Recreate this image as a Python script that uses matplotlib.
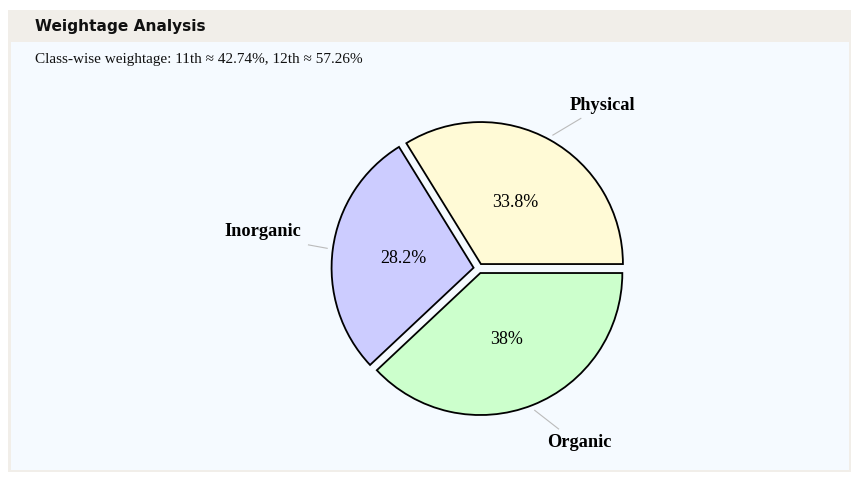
import matplotlib.pyplot as plt
from matplotlib.patches import Rectangle
import numpy as np

# data
topics = ["Physical", "Inorganic", "Organic"]
weights = [33.8, 28.2, 38.0]
colors = ["#fffad6", "#ccccff", "#ccffcc"]
title = "Weightage Analysis"
subtitle = "Class-wise weightage: 11th \u2248 42.74%, 12th \u2248 57.26%"

W, H = 857, 482
fig = plt.figure(figsize=(W / 100, H / 100), dpi=100)
fig.patch.set_facecolor("white")

# background frame / header / panel (pixel coords, y from top)
bg = fig.add_axes([0, 0, 1, 1])
bg.set_xlim(0, W)
bg.set_ylim(H, 0)
bg.axis("off")
bg.add_patch(Rectangle((8, 10), 843, 462, facecolor="#f1eee9", edgecolor="none"))
bg.add_patch(Rectangle((11, 42), 838, 428, facecolor="#f5faff", edgecolor="none"))
bg.text(35, 26, title, fontsize=11.1, fontweight="bold", family="DejaVu Sans",
        va="center", ha="left", color="#111111")
bg.text(35, 60, subtitle, fontsize=11, family=["Liberation Serif", "DejaVu Serif"],
        va="center", ha="left", color="#111111")

# pie axes: 1 data unit = R pixels
cx, cy, R = 478.5, 268.4, 142.0
ax = fig.add_axes([0, 0, 1, 1])
ax.axis("off")

def fmt(p):
    return "{:g}%".format(round(p, 1))

wedges, texts, autotexts = ax.pie(
    weights, labels=topics, colors=colors, startangle=0, counterclock=True,
    explode=[0.035] * len(weights), autopct=fmt, pctdistance=0.5,
    labeldistance=1.28,
    wedgeprops=dict(edgecolor="black", linewidth=1.3),
    textprops=dict(family="Liberation Serif"))

for t in texts:
    t.set_fontsize(13.2)
    t.set_fontweight("bold")
for t in autotexts:
    t.set_fontsize(13)

# nudge the left label up a bit like the original
texts[1].set_position((texts[1].get_position()[0] + 8 / R,
                       texts[1].get_position()[1] + 12 / R))

# leader lines: from wedge edge to just beside the label
for w, t in zip(wedges, texts):
    ang = np.deg2rad((w.theta1 + w.theta2) / 2)
    ox, oy = w.center
    x0 = ox + 1.04 * np.cos(ang)
    y0 = oy + 1.04 * np.sin(ang)
    tx, ty = t.get_position()
    x1 = tx + (0.08 if np.cos(ang) > 0 else 0.05)
    y1 = ty - 0.092 * np.sign(ty - oy)
    ax.plot([x0, x1], [y0, y1], color="#bbbbbb", lw=0.8)

ax.set_aspect("auto")
ax.set_xlim(-cx / R, (W - cx) / R)
ax.set_ylim(-(H - cy) / R, cy / R)

fig.savefig("out.png", dpi=100, facecolor=fig.get_facecolor())
